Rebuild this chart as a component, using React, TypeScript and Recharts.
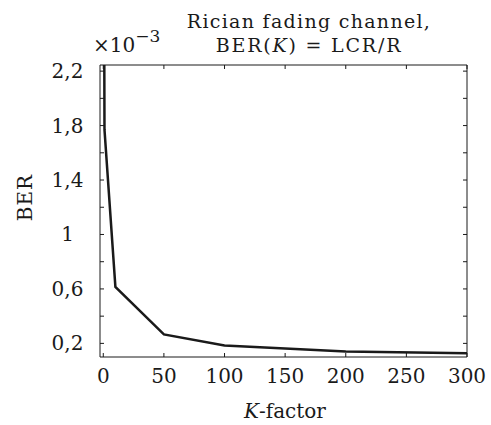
import React from 'react';
import { LineChart, Line, XAxis, YAxis } from 'recharts';

const kFactor = [0, 1, 10, 50, 100, 200, 300];
const berValues = [5, 1.77, 0.615, 0.266, 0.185, 0.14, 0.127];
const xTicks = [0, 50, 100, 150, 200, 250, 300];
const yTicks = [0.2, 0.4, 0.6, 0.8, 1.0, 1.2, 1.4, 1.6, 1.8, 2.0, 2.2];
const yLabelTicks = ['0,2', '0,6', '1', '1,4', '1,8', '2,2'];

const data = kFactor.map((k, i) => ({ k, ber: berValues[i] }));

const FONT = "'DejaVu Serif', serif";
const INK = '#1a1a1a';
const TICK = 4;

const yLabelFor = (v: number) => {
  const idx = yTicks.findIndex((t) => Math.abs(t - v) < 1e-9);
  if (idx >= 0 && idx % 2 === 0) return yLabelTicks[idx / 2];
  return null;
};

const BottomTick = (props: any) => {
  const { x, y, payload } = props;
  return (
    <g>
      <line x1={x} y1={y} x2={x} y2={y - TICK} stroke={INK} strokeWidth={1} />
      <text x={x} y={y + 26} textAnchor="middle" fontFamily={FONT} fontSize={20} fill={INK}>
        {payload.value}
      </text>
    </g>
  );
};

const TopTick = (props: any) => {
  const { x, y } = props;
  return <line x1={x} y1={y} x2={x} y2={y + TICK} stroke={INK} strokeWidth={1} />;
};

const LeftTick = (props: any) => {
  const { x, y, payload } = props;
  const label = yLabelFor(payload.value);
  return (
    <g>
      <line x1={x} y1={y} x2={x + TICK} y2={y} stroke={INK} strokeWidth={1} />
      {label !== null && (
        <text x={67.5} y={y + 7} textAnchor="middle" fontFamily={FONT} fontSize={20} fill={INK}>
          {label}
        </text>
      )}
    </g>
  );
};

const RightTick = (props: any) => {
  const { x, y } = props;
  return <line x1={x} y1={y} x2={x - TICK} y2={y} stroke={INK} strokeWidth={1} />;
};

export default function App() {
  return (
    <div style={{ position: 'absolute', left: 0, top: 0, width: 491, height: 425, background: '#fff' }}>
      <LineChart
        width={491}
        height={425}
        data={data}
        margin={{ top: 64, right: 23, bottom: 0, left: 0 }}
      >
        <XAxis
          xAxisId="bottom"
          dataKey="k"
          type="number"
          domain={[-2.7, 300]}
          ticks={xTicks}
          interval={0}
          allowDataOverflow
          height={68}
          tickSize={0}
          tickMargin={0}
          tickLine={false}
          axisLine={{ stroke: INK, strokeWidth: 1 }}
          tick={<BottomTick />}
        />
        <XAxis
          xAxisId="top"
          orientation="top"
          dataKey="k"
          type="number"
          domain={[-2.7, 300]}
          ticks={xTicks}
          interval={0}
          allowDataOverflow
          height={1}
          tickSize={0}
          tickMargin={0}
          tickLine={false}
          axisLine={{ stroke: INK, strokeWidth: 1 }}
          tick={<TopTick />}
        />
        <YAxis
          yAxisId="left"
          type="number"
          domain={[0.1, 2.245]}
          ticks={yTicks}
          interval={0}
          allowDataOverflow
          width={100}
          tickSize={0}
          tickMargin={0}
          tickLine={false}
          axisLine={{ stroke: INK, strokeWidth: 1 }}
          tick={<LeftTick />}
        />
        <YAxis
          yAxisId="right"
          orientation="right"
          type="number"
          domain={[0.1, 2.245]}
          ticks={yTicks}
          interval={0}
          allowDataOverflow
          width={1}
          tickSize={0}
          tickMargin={0}
          tickLine={false}
          axisLine={{ stroke: INK, strokeWidth: 1 }}
          tick={<RightTick />}
        />
        <Line
          xAxisId="top"
          yAxisId="right"
          dataKey="ber"
          type="linear"
          stroke="none"
          strokeWidth={0}
          dot={false}
          activeDot={false}
          legendType="none"
          isAnimationActive={false}
        />
        <Line
          xAxisId="bottom"
          yAxisId="left"
          dataKey="ber"
          type="linear"
          stroke={INK}
          strokeWidth={2.5}
          dot={false}
          isAnimationActive={false}
        />
      </LineChart>
      <svg
        width={491}
        height={425}
        style={{ position: 'absolute', left: 0, top: 0, pointerEvents: 'none' }}
      >
        <text x={309} y={28} textAnchor="middle" fontFamily={FONT} fontSize={19} letterSpacing={1.3} fill={INK}>
          Rician fading channel,
        </text>
        <text x={309} y={52} textAnchor="middle" fontFamily={FONT} fontSize={19} letterSpacing={1.8} fill={INK}>
          BER(<tspan fontStyle="italic">K</tspan>) = LCR/R
        </text>
        <text x={93} y={52} fontFamily={FONT} fontSize={20} fill={INK}>
          ×10
          <tspan dy={-10} fontSize={17}>−3</tspan>
        </text>
        <text
          x={25}
          y={197.5}
          transform="rotate(-90 25 197.5)"
          textAnchor="middle"
          dominantBaseline="central"
          fontFamily={FONT}
          fontSize={20}
          letterSpacing={1}
          fill={INK}
        >
          BER
        </text>
        <text x={285} y={418} textAnchor="middle" fontFamily={FONT} fontSize={20} fill={INK}>
          <tspan fontStyle="italic">K</tspan>-factor
        </text>
      </svg>
    </div>
  );
}
